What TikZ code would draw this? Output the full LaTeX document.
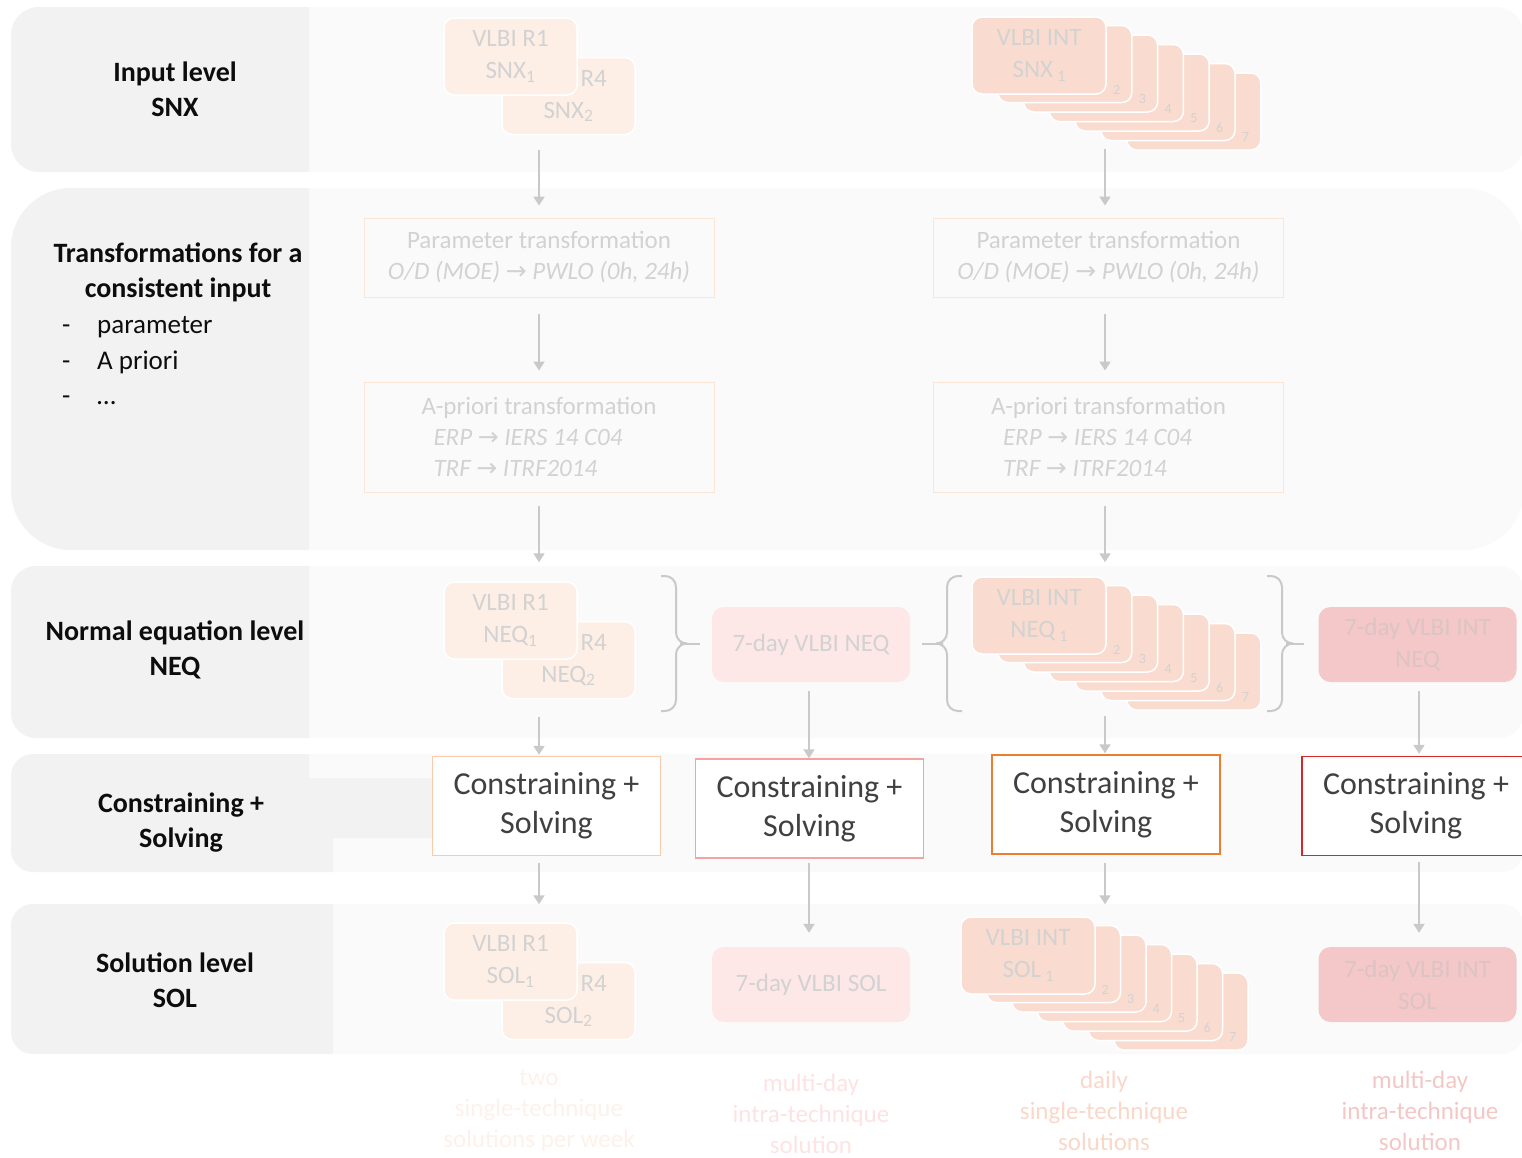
\documentclass[tikz,border=0pt]{standalone}
\usepackage{fontspec}
\setmainfont{Carlito}
\newfontfamily\symfont{DejaVu Sans}
\usetikzlibrary{arrows.meta, positioning, calc}

\definecolor{panel}{HTML}{F2F2F2}
\definecolor{bandright}{HTML}{FAFAFA}
\definecolor{labeltext}{HTML}{0D0D0D}
\definecolor{fadetext}{HTML}{D2D2D2}
\definecolor{fadepink}{HTML}{DCC4C4}
\definecolor{peachlt}{HTML}{FDEFE6}
\definecolor{peach}{HTML}{F9DCCF}
\definecolor{peachline}{HTML}{FBE5D6}
\definecolor{pinklt}{HTML}{FDE7E7}
\definecolor{pinkdk}{HTML}{F4C8C8}
\definecolor{arrowgray}{HTML}{C9C9C9}
\definecolor{solvetext}{HTML}{404040}
\definecolor{csone}{HTML}{F8CBAD}
\definecolor{cstwo}{HTML}{F4A3A3}
\definecolor{csthree}{HTML}{ED7D31}
\definecolor{csfour}{HTML}{D62828}
\definecolor{capone}{HTML}{FDF1EA}
\definecolor{captwo}{HTML}{FDE3E3}
\definecolor{capthree}{HTML}{F9D7C9}
\definecolor{capfour}{HTML}{F5C6C6}

\newcommand\fsz[2]{\fontsize{#1}{#2}\selectfont}
\newcommand\sarr{{\symfont →}}

\tikzset{
    rbrace/.pic={
        \draw[brc, rounded corners=11pt] (0,0) -- (15,0) -- (15,67.5) -- (19,67.5);
        \draw[brc, rounded corners=11pt] (0,135) -- (15,135) -- (15,67.5) -- (19,67.5);
        \coordinate (-tip) at (19,67.5);
    }
}

\begin{document}
\begin{tikzpicture}[
    x=1pt, y=-1pt,
    lbl/.style={font=\fsz{28}{35}\bfseries, text=labeltext, align=center},
    lstitem/.style={font=\fsz{27}{35}, text=labeltext, inner sep=0pt},
    lvlbox/.style={rectangle, rounded corners=10pt, fill=peachlt, draw=white, line width=1.5pt, minimum width=133pt, minimum height=77pt, text=fadetext, font=\fsz{25}{32}, align=center, inner sep=0pt},
    stackbox/.style={lvlbox, fill=peach, minimum width=134pt},
    numlbl/.style={font=\fsz{14}{14}, text=fadetext, inner sep=0pt},
    transbox/.style={rectangle, draw=peachline, line width=1pt, minimum width=350pt, minimum height=79pt, text=fadetext, font=\fsz{25}{31}, align=center},
    weekbox/.style={rectangle, rounded corners=12pt, fill=pinklt, minimum width=198pt, minimum height=75pt, text=fadetext, font=\fsz{25}{32}, align=center},
    intbox/.style={weekbox, fill=pinkdk, text=fadepink},
    solvebox/.style={rectangle, fill=white, line width=1.5pt, minimum width=228pt, minimum height=99pt, text=solvetext, font=\fsz{32}{39}, align=center},
    captxt/.style={font=\fsz{25}{31}, align=center},
    arr/.style={draw=arrowgray, line width=2pt, -{Triangle[width=11pt,length=9pt]}},
    brc/.style={draw=arrowgray, line width=2pt}
]
\useasboundingbox (0,0) rectangle (1522,1157);
\clip (0,0) rectangle (1522,1157);

% level bands
\foreach \ya/\yb/\rr in {7/172/28, 188/550/60, 566/738/25, 754/872/22, 904/1054/22}
    \fill[bandright, rounded corners=\rr pt] (11,\ya) rectangle (1524,\yb);
\foreach \ya/\yb/\rr/\xc in {7/172/28/309, 188/550/60/309, 566/738/25/309, 904/1054/22/333}
{
    \begin{scope}
        \clip (0,\ya) rectangle (\xc,\yb);
        \fill[panel, rounded corners=\rr pt] (11,\ya) rectangle (1524,\yb);
    \end{scope}
}
\begin{scope}
    \clip (0,740) -- (309,740) -- (309,778) -- (445,778) -- (445,838) -- (333,838) -- (333,890) -- (0,890) -- cycle;
    \fill[panel, rounded corners=22pt] (11,754) rectangle (1524,872);
\end{scope}

% level labels
\node[lbl] (lvl1) at (175,89.5) {Input level\\SNX};
\node[lbl] (lvl2) at (178,272) {Transformations for a\\consistent input};
\foreach \txt [count=\i] in {parameter, A priori, …}
    \node[lstitem, anchor=base west] (item\i) at (62,{298+35.5*\i}) {\makebox[35pt][l]{-}\txt};
\node[lbl] (lvl3) at (175,649.5) {Normal equation level\\NEQ};
\node[lbl] (lvl4) at (181,822.5) {Constraining +\\Solving};
\node[lbl] (lvl5) at (175,980.5) {Solution level\\SOL};

% input level
\node[lvlbox] (snxB) at (568.5,96) {\phantom{VLBI} R4\\SNX\textsubscript{2}};
\node[lvlbox] (snxA) at (510.5,56.5) {VLBI R1\\SNX\textsubscript{1}};
\foreach \k in {7,6,...,2}
{
    \node[stackbox] (snxS\k) at ({1039+25.8*(\k-1)},{54.5+9.5*(\k-1)}) {};
    \node[numlbl] at ([xshift=-16pt,yshift=13.5pt]snxS\k.south east) {\k};
}
\node[stackbox] (snxS1) at (1039,55.5) {VLBI INT\\SNX\,\raisebox{-4pt}{\fsz{16}{16}1}};

% transformations
\node[transbox] (par1) at (539,257.5) {Parameter transformation\\\textit{O/D (MOE) \sarr{} PWLO (0h, 24h)}};
\node[transbox] (par2) at (1108.5,257.5) {Parameter transformation\\\textit{O/D (MOE) \sarr{} PWLO (0h, 24h)}};
\node[transbox, minimum height=110pt, align=left] (apr1) at (539,437) {A-priori transformation\\\hspace*{12pt}\textit{ERP \sarr{} IERS 14 C04}\\\hspace*{12pt}\textit{TRF \sarr{} ITRF2014}};
\node[transbox, minimum height=110pt, align=left] (apr2) at (1108.5,437) {A-priori transformation\\\hspace*{12pt}\textit{ERP \sarr{} IERS 14 C04}\\\hspace*{12pt}\textit{TRF \sarr{} ITRF2014}};

% normal equation level
\node[lvlbox] (neqB) at (568.5,660) {\phantom{VLBI} R4\\NEQ\textsubscript{2}};
\node[lvlbox] (neqA) at (510.5,620.5) {VLBI R1\\NEQ\textsubscript{1}};
\foreach \k in {7,6,...,2}
{
    \node[stackbox] (neqS\k) at ({1039+25.8*(\k-1)},{614.5+9.5*(\k-1)}) {};
    \node[numlbl] at ([xshift=-16pt,yshift=13.5pt]neqS\k.south east) {\k};
}
\node[stackbox] (neqS1) at (1039,615.5) {VLBI INT\\NEQ\,\raisebox{-4pt}{\fsz{16}{16}1}};
\node[weekbox] (neq7) at (811,644.5) {7-day VLBI NEQ};
\node[intbox] (neq4) at (1417.5,644.5) {7-day VLBI INT\\NEQ};

\pic (br1) at (661,576) {rbrace};
\pic[xscale=-1] (br2) at (962,576) {rbrace};
\pic (br3) at (1267,576) {rbrace};
\draw[brc, shorten >=12pt] (br1-tip) -- (neq7.west |- br1-tip);
\draw[brc, shorten <=12pt] (neq7.east |- br2-tip) -- (br2-tip);
\draw[brc, shorten >=14pt] (br3-tip) -- (neq4.west |- br3-tip);

% constraining + solving
\node[solvebox, draw=csone] (cs1) at (546.5,806) {Constraining +\\Solving};
\node[solvebox, draw=cstwo] (cs2) at (809.5,808.5) {Constraining +\\Solving};
\node[solvebox, draw=csthree] (cs3) at (1106,804.5) {Constraining +\\Solving};
\node[solvebox, draw=csfour] (cs4) at (1416,806) {Constraining +\\Solving};

% solution level
\node[lvlbox] (solB) at (568.5,1001) {\phantom{VLBI} R4\\SOL\textsubscript{2}};
\node[lvlbox] (solA) at (510.5,961.5) {VLBI R1\\SOL\textsubscript{1}};
\foreach \k in {7,6,...,2}
{
    \node[stackbox] (solS\k) at ({1028+25.5*(\k-1)},{954.5+9.5*(\k-1)}) {};
    \node[numlbl] at ([xshift=-16pt,yshift=13.5pt]solS\k.south east) {\k};
}
\node[stackbox] (solS1) at (1028,955.5) {VLBI INT\\SOL\,\raisebox{-4pt}{\fsz{16}{16}1}};
\node[weekbox] (sol7) at (811,984.5) {7-day VLBI SOL};
\node[intbox] (sol4) at (1417.5,984.5) {7-day VLBI INT\\SOL};

% columns
\coordinate (c1) at (539,0);
\coordinate (c2) at (809,0);
\coordinate (c3) at (1105,0);
\coordinate (c4) at (1419,0);

% arrows
\draw[arr, shorten <=15pt, shorten >=12pt] (c1 |- snxB.south) -- (c1 |- par1.north);
\draw[arr, shorten <=16pt, shorten >=11pt] (c1 |- par1.south) -- (c1 |- apr1.north);
\draw[arr, shorten <=13pt, shorten >=19pt] (c1 |- apr1.south) -- (c1 |- neqA.north);
\draw[arr, shorten <=18pt, shorten >=1pt] (c1 |- neqB.south) -- (c1 |- cs1.north);
\draw[arr, shorten <=7pt, shorten >=18pt] (c1 |- cs1.south) -- (c1 |- solA.north);
\draw[arr, shorten <=9pt, shorten >=0pt] (c2 |- neq7.south) -- (c2 |- cs2.north);
\draw[arr, shorten <=4pt, shorten >=14pt] (c2 |- cs2.south) -- (c2 |- sol7.north);
\draw[arr, shorten <=7.5pt, shorten >=12pt] (c3 |- snxS6.south) -- (c3 |- par2.north);
\draw[arr, shorten <=16pt, shorten >=11pt] (c3 |- par2.south) -- (c3 |- apr2.north);
\draw[arr, shorten <=13pt, shorten >=14pt] (c3 |- apr2.south) -- (c3 |- neqS1.north);
\draw[arr, shorten <=14.5pt, shorten >=1pt] (c3 |- neqS6.south) -- (c3 |- cs3.north);
\draw[arr, shorten <=8pt, shorten >=12pt] (c3 |- cs3.south) -- (c3 |- solS1.north);
\draw[arr, shorten <=9pt, shorten >=2pt] (c4 |- neq4.south) -- (c4 |- cs4.north);
\draw[arr, shorten <=6pt, shorten >=14pt] (c4 |- cs4.south) -- (c4 |- sol4.north);

% captions
\node[captxt, text=capone] (cap1) at (539,1111) {two\\single-technique\\solutions per week};
\node[captxt, text=captwo] (cap2) at (811,1114) {multi-day\\intra-technique\\solution};
\node[captxt, text=capthree] (cap3) at (1104,1111) {daily\\single-technique\\solutions};
\node[captxt, text=capfour] (cap4) at (1420,1111) {multi-day\\intra-technique\\solution};

\end{tikzpicture}
\end{document}
